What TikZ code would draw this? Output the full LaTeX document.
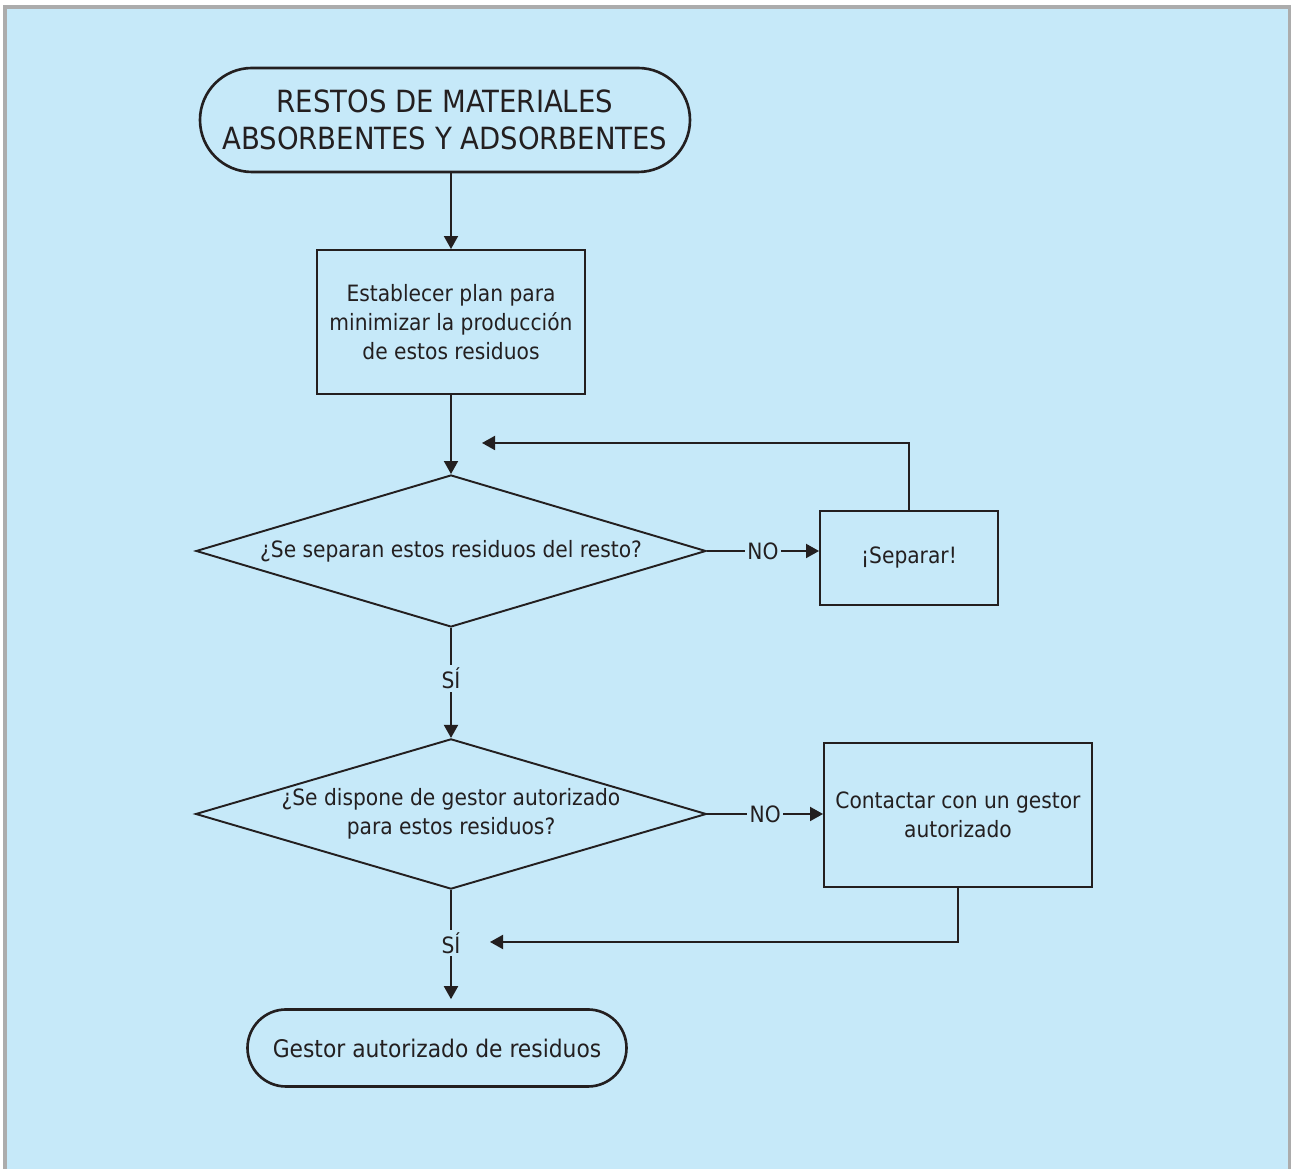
\documentclass[tikz,border=0pt]{standalone}
\usepackage{fontspec}
\setmainfont{DejaVu Sans Condensed}
\usepackage{tikz}
\usetikzlibrary{shapes.geometric, positioning, arrows.meta}
\definecolor{FondoAzul}{RGB}{198,233,249}
\definecolor{MarcoGris}{RGB}{172,172,172}
\definecolor{Tinta}{RGB}{35,31,32}

\begin{document}
\begin{tikzpicture}[
          caja/.style={rectangle, draw=Tinta, line width=1.1pt, align=center,
                       font=\fontsize{12.8}{16.4}\selectfont, text=Tinta, inner sep=2pt},
          termino/.style={rectangle, rounded corners=0.75cm, draw=Tinta, line width=1.5pt,
                          align=center, text=Tinta},
          decision/.style={diamond, draw=Tinta, line width=1.1pt, align=center, inner sep=0pt,
                           aspect=3.4, font=\fontsize{12.8}{16.4}\selectfont, text=Tinta},
          etiq/.style={fill=FondoAzul, inner sep=1.5pt, text=Tinta,
                       font=\fontsize{12.8}{16.4}\selectfont},
          arr/.style={-{Triangle[length=0.26cm, width=0.28cm]}, draw=Tinta, line width=1.1pt}
        ]
        \useasboundingbox (0,0) rectangle (25.82,23.38);
        \fill[FondoAzul] (0.10,-1) rectangle (25.80,23.24);
        \draw[MarcoGris, line width=2.2pt] (0.10,-1) -- (0.10,23.24) -- (25.80,23.24) -- (25.80,-1);

        \node[termino, minimum width=9.8cm, minimum height=2.08cm, rounded corners=1.04cm,
              font=\fontsize{17.4}{21}\selectfont]
              (inicio) at (8.90, 20.98)
              {RESTOS DE MATERIALES\\ABSORBENTES Y ADSORBENTES};

        \node[caja, minimum width=5.36cm, minimum height=2.88cm]
              (plan) at (9.02, 16.94)
              {Establecer plan para\\minimizar la producción\\de estos residuos};

        \node[decision, minimum width=10.2cm, minimum height=3.04cm]
              (separa) at (9.02, 12.36) {¿Se separan estos residuos del resto?};

        \node[caja, minimum width=3.56cm, minimum height=1.88cm]
              (separar) at (18.18, 12.22) {¡Separar!};

        \node[decision, minimum width=10.2cm, minimum height=2.96cm]
              (gestor) at (9.02, 7.10)
              {¿Se dispone de gestor autorizado\\para estos residuos?};

        \node[caja, minimum width=5.36cm, minimum height=2.88cm]
              (contacto) at (19.16, 7.08) {Contactar con un gestor\\autorizado};

        \node[termino, minimum width=7.58cm, minimum height=1.54cm, rounded corners=0.77cm,
              font=\fontsize{13.8}{17}\selectfont]
              (fin) at (8.74, 2.42) {Gestor autorizado de residuos};

        \coordinate (vuelta1) at (9.64, 14.52);
        \coordinate (vuelta2) at (9.80, 4.54);

        \draw[arr] (inicio.south -| plan.north) -- (plan.north);
        \draw[arr] (plan) -- (separa);
        \draw[arr] (separa.east) -- node[etiq]{NO} (separa.east -| separar.west);
        \draw[arr] (separar.north) |- (vuelta1);
        \draw[arr] (separa.south) -- node[etiq, pos=0.46]{SÍ} (gestor.north);
        \draw[arr] (gestor.east) -- node[etiq]{NO} (gestor.east -| contacto.west);
        \draw[arr] (contacto.south) |- (vuelta2);
        \draw[arr, shorten >=0.18cm] (gestor.south) -- node[etiq, pos=0.45]{SÍ} (gestor.south |- fin.north);
      \end{tikzpicture}
\end{document}
